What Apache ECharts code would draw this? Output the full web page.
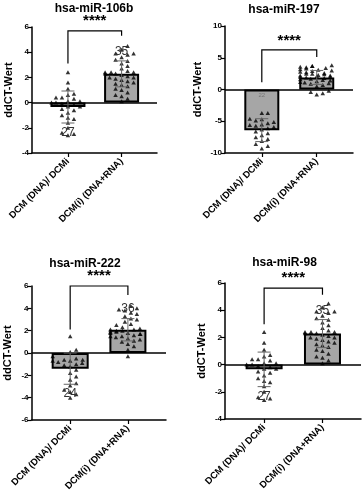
<!DOCTYPE html>
<html><head><meta charset="utf-8">
<script src="https://cdn.jsdelivr.net/npm/echarts@6/dist/echarts.min.js"></script>
<style>html,body{margin:0;padding:0;background:#fff}#c{width:362px;height:500px}</style>
</head><body><div id="c"></div>
<script>
// ---------- data ----------
const categories = ['DCM (DNA)/ DCMi', 'DCM(i) (DNA+RNA)'];
const titles = ['hsa-miR-106b', 'hsa-miR-197', 'hsa-miR-222', 'hsa-miR-98'];
const yName = 'ddCT-Wert';
const sigText = '****';

// y axis ranges [min, max, interval]
const yAxis106b = [-4, 6, 2];
const yAxis197 = [-10, 10, 5];
const yAxis222 = [-6, 6, 2];
const yAxis98 = [-4, 6, 2];

// bar means and SD
const mean106b = [-0.35, 2.28]; const sd106b = [1.27, 1.03];
const mean197 = [-6.4, 1.9];    const sd197 = [1.8, 1.1];
const mean222 = [-1.4, 2.08];   const sd222 = [1.4, 1.0];
const mean98 = [-0.35, 2.28];   const sd98 = [1.27, 1.03];

// individual values
const pts106b_a = [2.4, 1.6, 1.1, 0.7, 0.6, 0.4, 0.4, 0.3, 0.1, 0.1, 0.0, 0.0, -0.1, -0.2, -0.3, -0.3, -0.5, -0.6, -0.8, -1.0, -1.2, -1.3, -1.6, -2.0, -2.4, -2.5, -2.6];
const pts106b_b = [4.5, 4.2, 3.9, 3.9, 3.8, 3.6, 3.4, 3.3, 3.1, 2.9, 2.7, 2.5, 2.4, 2.4, 2.4, 2.3, 2.3, 2.2, 2.1, 2.0, 2.0, 1.9, 1.8, 1.7, 1.6, 1.5, 1.4, 1.3, 1.1, 1.0, 0.8, 0.6, 0.5, 0.3, 0.1];
const pts197_a = [-3.7, -3.7, -4.6, -4.7, -4.9, -5.1, -5.3, -5.5, -5.6, -5.7, -5.9, -6.1, -6.3, -6.6, -6.9, -7.2, -7.5, -7.8, -8.1, -8.6, -8.9, -9.3];
const pts197_b = [3.8, 3.7, 3.7, 3.6, 3.5, 3.4, 3.3, 3.2, 3.1, 3.0, 2.9, 2.8, 2.7, 2.6, 2.5, 2.5, 2.4, 2.3, 2.2, 2.2, 2.1, 2.0, 2.0, 1.9, 1.8, 1.7, 1.6, 1.5, 1.4, 1.3, 1.2, 1.1, 1.0, 0.9, 0.7, 0.5, -0.2, -0.4, -0.6, -0.8];
const pts222_a = [1.5, 0.3, 0.1, -0.3, -0.5, -0.6, -0.6, -0.7, -0.7, -0.8, -0.9, -1.0, -1.1, -1.2, -1.5, -1.8, -2.1, -2.4, -2.7, -2.9, -3.3, -3.5, -3.7, -4.0];
const pts222_b = [4.2, 4.0, 3.9, 3.8, 3.6, 3.5, 3.3, 3.1, 3.0, 2.8, 2.6, 2.5, 2.3, 2.2, 2.1, 2.1, 2.0, 2.0, 1.9, 1.9, 1.8, 1.8, 1.7, 1.7, 1.6, 1.5, 1.5, 1.4, 1.3, 1.2, 1.1, 1.0, 0.8, 0.6, 0.3, -0.3];
const pts98_a = pts106b_a.slice();
const pts98_b = pts106b_b.slice();

// n labels (text, value position per group)
const nText106b = ['27', '35']; const nY106b = [-2.4, 4.05];
const nText197 = ['22', ''];    const nY197 = [-0.9, 0];
const nText222 = ['24', '36'];  const nY222 = [-3.6, 3.95];
const nText98 = ['27', '35'];   const nY98 = [-2.35, 4.0];

// significance bracket: [left leg bottom, top, right leg bottom, stars y]
const sig106b = [3.1, 5.7, 5.3, 6.45];
const sig197 = [1.15, 6.25, 5.1, 7.6];
const sig222 = [2.1, 6.0, 5.2, 6.9];
const sig98 = [2.96, 5.63, 5.13, 6.4];

// ---------- layout ----------
const FONT = "'Liberation Sans', Arial, sans-serif";
const xMin = -0.67, xMax = 1.66;
const panels = [
  {title: titles[0], ax: yAxis106b, mean: mean106b, sd: sd106b, a: pts106b_a, b: pts106b_b, nt: nText106b, ny: nY106b, sig: sig106b,
   grid: {left: 32, top: 27, width: 125, height: 126}, tx: 94, ty: 9, gap: 18, bw: 35},
  {title: titles[1], ax: yAxis197, mean: mean197, sd: sd197, a: pts197_a, b: pts197_b, nt: nText197, ny: nY197, sig: sig197,
   grid: {left: 225, top: 26, width: 128, height: 127}, tx: 284, ty: 10, gap: 22, bw: 35, nSize: [6, 11]},
  {title: titles[2], ax: yAxis222, mean: mean222, sd: sd222, a: pts222_a, b: pts222_b, nt: nText222, ny: nY222, sig: sig222,
   grid: {left: 31.5, top: 286, width: 134.5, height: 134}, tx: 85, ty: 264, gap: 18, bw: 37},
  {title: titles[3], ax: yAxis98, mean: mean98, sd: sd98, a: pts98_a, b: pts98_b, nt: nText98, ny: nY98, sig: sig98,
   grid: {left: 225, top: 283, width: 136, height: 136}, tx: 284.5, ty: 263, gap: 18, bw: 37}
];

// beeswarm placement (pixel-space collision, converted back to axis units)
function swarm(vals, cx, pxX, pxY, dx, dy, maxOff) {
  const order = vals.map((v, i) => i).sort((p, q) => vals[p] - vals[q]);
  const placed = [], out = [];
  for (const i of order) {
    const yp = vals[i] * pxY;
    let off = 0, found = false;
    for (let s = 0; s < 60; s++) {
      const cand = s === 0 ? 0 : (s % 2 ? 1 : -1) * Math.ceil(s / 2) * dx * 0.5;
      if (Math.abs(cand) > maxOff) break;
      if (placed.every(p => Math.abs(p[0] - cand) >= dx || Math.abs(p[1] - yp) >= dy)) { off = cand; found = true; break; }
    }
    if (!found) {
      let best = 0, bestN = 1e9;
      for (let c = -maxOff; c <= maxOff; c += dx * 0.5) {
        const n = placed.filter(p => Math.abs(p[0] - c) < dx && Math.abs(p[1] - yp) < dy).length;
        if (n < bestN) { bestN = n; best = c; }
      }
      off = best;
    }
    placed.push([off, yp]);
    out.push([cx + off / pxX, vals[i]]);
  }
  return out;
}

const grids = [], xAxes = [], yAxes = [], series = [], graphics = [];
panels.forEach((p, i) => {
  grids.push(Object.assign({containLabel: false}, p.grid));
  xAxes.push({
    type: 'value', gridIndex: i, min: xMin, max: xMax,
    axisLine: {show: true, onZero: false, lineStyle: {color: '#000', width: 1.5}},
    axisTick: {show: true, customValues: [0, 1], length: 4, lineStyle: {color: '#000', width: 1.2}},
    axisLabel: {show: true, customValues: [0, 1], rotate: 45, margin: 7,
      formatter: v => categories[Math.round(v)], color: '#000', fontFamily: FONT, fontWeight: 'bold', fontSize: 9.5},
    splitLine: {show: false}
  });
  yAxes.push({
    type: 'value', gridIndex: i, min: p.ax[0], max: p.ax[1], interval: p.ax[2],
    name: yName, nameLocation: 'middle', nameGap: p.gap,
    nameTextStyle: {color: '#000', fontFamily: FONT, fontWeight: 'bold', fontSize: 11},
    axisLine: {show: true, onZero: false, lineStyle: {color: '#000', width: 1.5}},
    axisTick: {show: true, length: 4, lineStyle: {color: '#000', width: 1.2}},
    axisLabel: {color: '#000', fontFamily: FONT, fontWeight: 'bold', fontSize: 8, margin: 3},
    splitLine: {show: false}
  });
  const pxX = p.grid.width / (xMax - xMin);
  const pxY = p.grid.height / (p.ax[1] - p.ax[0]);
  series.push({
    type: 'bar', xAxisIndex: i, yAxisIndex: i, barWidth: p.bw, z: 2,
    data: p.mean.map((m, k) => [k, m]),
    itemStyle: {color: '#a6a6a6', borderColor: '#000', borderWidth: 2},
    markLine: {silent: true, symbol: 'none', label: {show: false},
      lineStyle: {color: '#000', width: 1.5, type: 'solid'}, data: [{yAxis: 0}]}
  });
  const lim = p.bw / 2 - 1;
  const pts = swarm(p.a, 0, pxX, pxY, 6, 5, lim).concat(swarm(p.b, 1, pxX, pxY, 6, 5, lim));
  series.push({
    type: 'scatter', xAxisIndex: i, yAxisIndex: i, symbol: 'triangle', symbolSize: [4.5, 4], z: 4,
    itemStyle: {color: '#000'}, data: pts
  });
  series.push({
    type: 'custom', xAxisIndex: i, yAxisIndex: i, z: 5,
    data: p.mean.map((m, k) => [k, m, p.sd[k]]),
    renderItem: (params, api) => {
      const x = api.value(0), m = api.value(1), s = api.value(2);
      const t = api.coord([x, m + s]), b = api.coord([x, m - s]);
      const cap = 6.5, st = {stroke: '#666', lineWidth: 1};
      return {type: 'group', children: [
        {type: 'line', shape: {x1: t[0], y1: t[1], x2: b[0], y2: b[1]}, style: st},
        {type: 'line', shape: {x1: t[0] - cap, y1: t[1], x2: t[0] + cap, y2: t[1]}, style: st},
        {type: 'line', shape: {x1: b[0] - cap, y1: b[1], x2: b[0] + cap, y2: b[1]}, style: st}
      ]};
    }
  });
  series.push({
    type: 'custom', xAxisIndex: i, yAxisIndex: i, z: 6, clip: false,
    data: p.ny.map((y, k) => [k, y]),
    renderItem: (params, api) => {
      const c = api.coord([api.value(0), api.value(1)]);
      const k = params.dataIndex;
      const fs = p.nSize ? p.nSize[k] : 12;
      return {type: 'text', x: c[0], y: c[1], style: {text: p.nt[k], fill: fs < 8 ? '#777' : '#333',
        font: 'normal ' + fs + 'px ' + FONT, align: 'center', verticalAlign: 'middle'}};
    }
  });
  series.push({
    type: 'custom', xAxisIndex: i, yAxisIndex: i, z: 6, clip: false,
    data: [p.sig],
    renderItem: (params, api) => {
      const l = api.coord([0, api.value(0)]), tl = api.coord([0, api.value(1)]);
      const tr = api.coord([1, api.value(1)]), r = api.coord([1, api.value(2)]);
      const s = api.coord([0.5, api.value(3)]);
      return {type: 'group', children: [
        {type: 'polyline', shape: {points: [l, tl, tr, r]}, style: {stroke: '#000', lineWidth: 1.2, fill: null}},
        {type: 'text', x: s[0], y: s[1], style: {text: sigText, fill: '#000',
          font: 'bold 15px ' + FONT, align: 'center', verticalAlign: 'middle'}}
      ]};
    }
  });
  graphics.push({type: 'text', x: p.tx, y: p.ty, style: {text: p.title, fill: '#000',
    font: 'bold 12px ' + FONT, align: 'center', verticalAlign: 'middle'}});
});

const chart = echarts.init(document.getElementById('c'), null, {renderer: 'canvas'});
chart.setOption({
  backgroundColor: '#fff', animation: false,
  grid: grids, xAxis: xAxes, yAxis: yAxes, series: series, graphic: graphics
});
</script>
</body></html>
